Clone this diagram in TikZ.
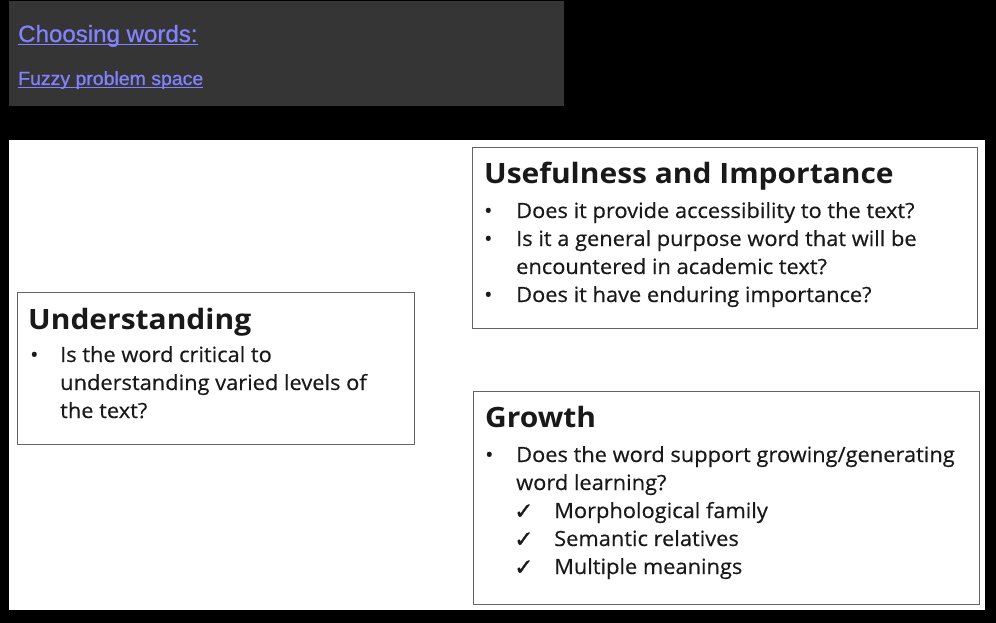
\documentclass[tikz,border=0pt]{standalone}
\usepackage{fontspec}
\setmainfont{Open Sans}[FakeStretch=1.04,FakeBold=0.4]
\newfontfamily\ttlfont{Open Sans}[FakeStretch=1.07]
\newfontfamily\hdfont{Liberation Sans}[FakeStretch=1.025,FakeBold=0.8]
\newfontfamily\symfont{DejaVu Sans}[FakeBold=1]
\definecolor{darkbg}{RGB}{53,53,53}
\definecolor{linkc}{RGB}{130,130,255}
\definecolor{boxline}{RGB}{100,100,100}
\definecolor{txt}{RGB}{25,25,25}
\begin{document}
\begin{tikzpicture}[x=1pt,y=-1pt,
  panel/.style={draw=boxline,line width=1.4pt,fill=white,inner sep=0pt,anchor=north west},
  ttl/.style={anchor=base west,inner sep=0pt,text=txt,font=\ttlfont\bfseries\fontsize{28}{30}\selectfont},
  bodytext/.style={anchor=base west,inner sep=0pt,text=txt,font=\fontsize{21}{24}\selectfont},
  checkmark/.style={anchor=base west,inner sep=0pt,text=txt,font=\symfont\fontsize{23}{24}\selectfont},
  link/.style={anchor=base west,inner sep=0pt,text=linkc},
  uline/.style={draw=linkc,line width=1.3pt}]
\useasboundingbox (0,0) rectangle (996,623);
\fill[black] (0,0) rectangle (996,623);
\node[fill=darkbg,inner sep=0pt,anchor=north west,minimum width=555pt,minimum height=105pt] (hdr) at (9,1) {};
\node[link,font=\hdfont\fontsize{23.5}{26}\selectfont] (h1) at (18,42) {Choosing words:};
\node[link,font=\hdfont\fontsize{19}{21}\selectfont] (h2) at (18,85) {Fuzzy problem space};
\draw[uline] ([yshift=-2.3pt]h1.base west) -- ([yshift=-2.3pt]h1.base east);
\draw[uline] ([yshift=-2.3pt]h2.base west) -- ([yshift=-2.3pt]h2.base east);
\node[fill=white,inner sep=0pt,anchor=north west,minimum width=976pt,minimum height=470pt] (sheet) at (9,140) {};
% Usefulness
\node[panel,minimum width=505pt,minimum height=181pt] (use) at (472,147) {};
\node[ttl] (uset) at (484,183) {Usefulness and Importance};
\node[bodytext] (ub1) at (484,218) {•};
\node[bodytext] (u1) at (516,218) {Does it provide accessibility to the text?};
\node[bodytext] (ub2) at (484,246) {•};
\node[bodytext] (u2) at (516,246) {Is it a general purpose word that will be};
\node[bodytext] (u3) at (516,274) {encountered in academic text?};
\node[bodytext] (ub3) at (484,302) {•};
\node[bodytext] (u4) at (516,302) {Does it have enduring importance?};
% Understanding
\node[panel,minimum width=397pt,minimum height=152pt] (und) at (17,292) {};
\node[ttl] (undt) at (28,329) {Understanding};
\node[bodytext] (nb1) at (30,362) {•};
\node[bodytext] (n1) at (60,362) {Is the word critical to};
\node[bodytext] (n2) at (60,390) {understanding varied levels of};
\node[bodytext] (n3) at (60,418) {the text?};
% Growth
\node[panel,minimum width=506pt,minimum height=213pt] (gro) at (473,391) {};
\node[ttl] (grot) at (485,427) {Growth};
\node[bodytext] (gb1) at (485,462) {•};
\node[bodytext] (g1) at (516,462) {Does the word support growing/generating};
\node[bodytext] (g2) at (516,490) {word learning?};
\node[checkmark] (gc1) at (514,519) {✓};
\node[bodytext] (g3) at (554,518) {Morphological family};
\node[checkmark] (gc2) at (514,547) {✓};
\node[bodytext] (g4) at (554,546) {Semantic relatives};
\node[checkmark] (gc3) at (514,575) {✓};
\node[bodytext] (g5) at (554,574) {Multiple meanings};
\end{tikzpicture}
\end{document}
